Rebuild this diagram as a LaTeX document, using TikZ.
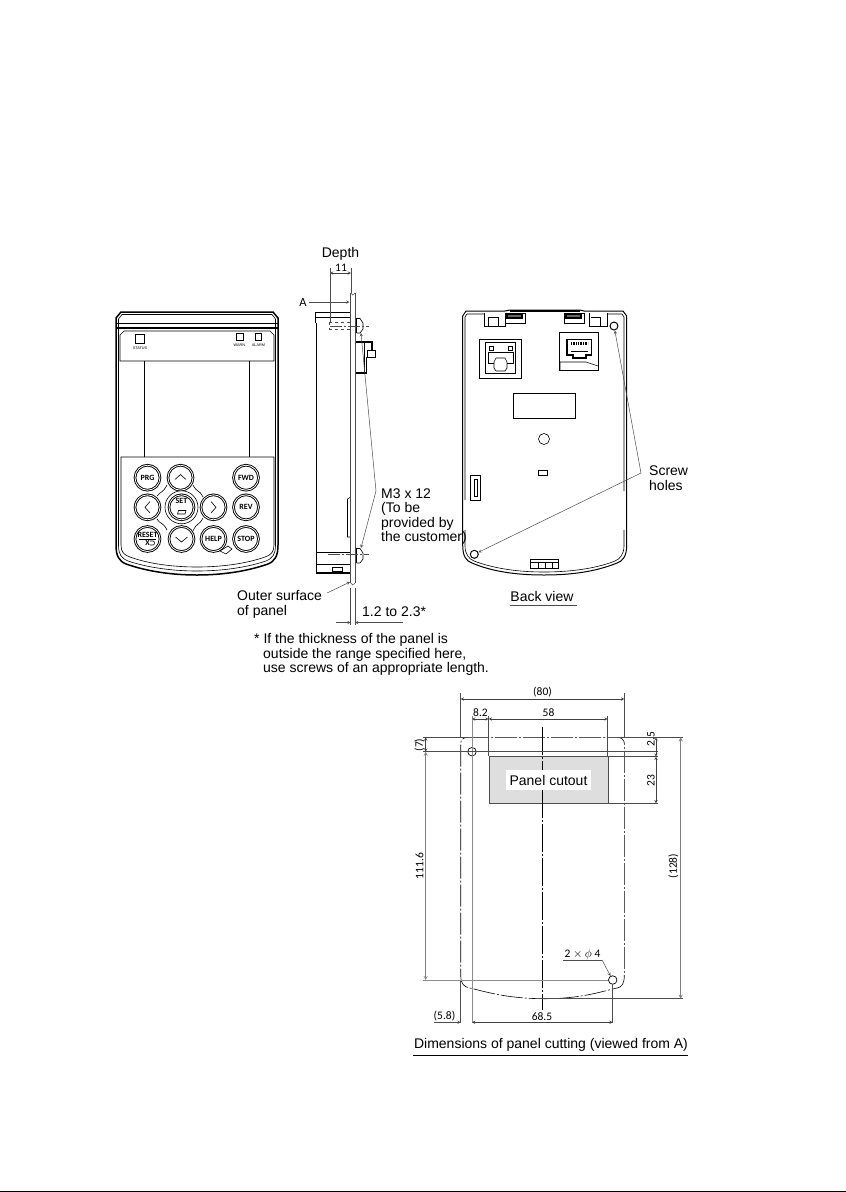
\documentclass[tikz,border=0pt]{standalone}
\usepackage{fontspec}
\setmainfont{Liberation Sans}
\newfontfamily\dimfont{Carlito}
\usetikzlibrary{arrows.meta, positioning}
\tikzset{
    body/.style={draw=black, line width=1.2pt},
    thinline/.style={draw=black, line width=0.6pt},
    dimline/.style={draw=black!75, line width=0.5pt, <->, >=stealth},
    extline/.style={draw=black!70, line width=0.5pt},
    leader/.style={draw=black!70, line width=0.5pt, ->, >=stealth},
    centerline/.style={draw=black, line width=0.6pt, dash pattern=on 22pt off 2pt on 2pt off 2pt},
    textlabel/.style={inner sep=0pt, align=left, font=\fontsize{14}{14.3}\selectfont},
    dimlabel/.style={inner sep=0pt, font=\dimfont\fontsize{11.5}{12}\selectfont},
    keybtn/.style={circle, draw=black, line width=0.9pt, double=white, double distance=0.8pt, minimum size=25pt, inner sep=0pt, align=center, font=\dimfont\bfseries\fontsize{8}{7.5}\selectfont},
    lamp/.style={rectangle, draw=black, line width=0.6pt, inner sep=0pt},
    lamplabel/.style={inner sep=0pt, font=\fontsize{3.8}{4}\selectfont},
}
\begin{document}
\begin{tikzpicture}[x=1pt, y=-1pt, >=stealth]
    \useasboundingbox (0,0) rectangle (846,1192);

    % Front view: case
    \draw[body, line width=1.5pt] (116,322) -- (116,318) -- (121,312) -- (273,312) -- (278,318) -- (278,545)
        .. controls (278,556) and (275,561) .. (268,564) .. controls (245,572) and (220,575) .. (197,575)
        .. controls (174,575) and (149,572) .. (126,564) .. controls (119,561) and (116,556) .. (116,545) -- cycle;
    \draw[thinline] (118.5,322) -- (118.5,319) -- (122,314.5) -- (272,314.5) -- (275.5,319) -- (275.5,545)
        .. controls (275.5,554) and (273,558) .. (266,561) .. controls (245,568) and (220,571) .. (197,571)
        .. controls (174,571) and (149,568) .. (128,561) .. controls (121,558) and (118.5,554) .. (118.5,545) -- cycle;
    \draw[body] (116,328) -- (278,328);
    \draw[thinline] (116,323) -- (278,323);

    % Front view: display and keypad
    \draw[thinline] (120,361) -- (120,335) -- (124,331) -- (270,331) -- (274,335) -- (274,361) -- cycle;
    \draw[thinline] (144,361) -- (144,457);
    \draw[thinline] (249,361) -- (249,457);
    \draw[thinline] (121,457) -- (274,457) -- (274,545) .. controls (274,552) and (271,555) .. (265,557)
        .. controls (245,564) and (220,567) .. (197,567) .. controls (174,567) and (149,564) .. (130,557)
        .. controls (124,555) and (121,552) .. (121,545) -- cycle;

    % Lamps
    \node[lamp, minimum size=9pt] (statuslamp) at (140,339) {};
    \node[lamplabel, below=3pt of statuslamp] (statustext) {STATUS};
    \node[lamp, minimum size=6.5pt] (warnlamp) at (240,337) {};
    \node[lamplabel, below=3pt of warnlamp] (warntext) {WARN.};
    \node[lamp, minimum size=6.5pt] (alarmlamp) at (258.5,337) {};
    \node[lamplabel, below=3pt of alarmlamp] (alarmtext) {ALARM};

    % Keys
    \draw[thinline] (193,485) .. controls (197,493) and (199,489) .. (203,497);
    \draw[thinline] (167,485) .. controls (163,493) and (161,491) .. (157,496);
    \draw[thinline] (193,531) .. controls (197,522) and (199,526) .. (203,518);
    \draw[thinline] (167,530) .. controls (163,522) and (161,525) .. (157,519);
    \node[keybtn] (prgkey) at (147.5,477.7) {PRG};
    \node[keybtn] (upkey) at (180.5,477.7) {};
    \node[keybtn] (fwdkey) at (246,477.7) {FWD};
    \node[keybtn] (leftkey) at (147.5,507.3) {};
    \node[circle, draw=black, line width=0.6pt, fill=white, minimum size=33pt, inner sep=0pt] (setring) at (181.5,507.3) {};
    \node[keybtn] (setkey) at (181.5,507.3) {SET\\[5pt]};
    \node[keybtn] (rightkey) at (213.5,507.3) {};
    \node[keybtn] (revkey) at (246,507.3) {REV};
    \node[keybtn] (resetkey) at (147.5,539) {RESET\\[0.5pt]X\hspace{7pt}};
    \node[keybtn] (downkey) at (181.5,539) {};
    \node[keybtn] (helpkey) at (213.5,539) {HELP};
    \node[keybtn] (stopkey) at (246,539) {STOP};
    \draw[thinline] (175,479.5) -- (180.5,474.5) -- (186,479.5);
    \draw[thinline] (175.5,537) -- (181.5,542) -- (187.5,537);
    \draw[thinline] (150,501.5) -- (145,507.3) -- (150,513);
    \draw[thinline] (211,501.5) -- (216,507.3) -- (211,513);
    \draw[thinline] (177.5,514) -- (178.5,510.5) -- (186,510.5) -- (185,514) -- cycle;
    \draw[thinline] (139,539) -- (156,539);
    \draw[thinline] (150,541) -- (153,541) .. controls (155,541) and (155,545) .. (153,545) -- (150,545);
    \draw[thinline] (220,551) -- (228,546) -- (232,549) -- (226,554) -- cycle;

    % Side view: case
    \draw[thinline] (315,323) -- (315,312) -- (350.7,312);
    \draw[body] (316.7,323) -- (316.7,573) -- (350.7,573);
    \draw[body] (315,317.5) -- (350.7,317.5);
    \draw[body] (350.7,312) -- (350.7,573);
    \draw[thinline] (316,552) -- (350.7,552);
    \draw[body] (316,564.5) -- (350.7,564.5);
    \draw[thinline] (332,567) rectangle (342,571);
    \draw[thinline] (350.7,497) -- (347.5,499) -- (347.5,537) -- (350.7,537);
    \draw[draw=black!70, dashed, line width=0.6pt] (329.5,322) rectangle (350.5,329);

    % Side view: panel
    \draw[extline, line width=0.7pt] (350.7,293) -- (350.7,583);
    \draw[extline, line width=0.7pt] (355,293) -- (355,583);
    \draw[extline] (350.7,293) -- (352.8,295) -- (355,293);
    \draw[extline] (350.7,583) -- (352.8,585) -- (355,583);
    \draw[extline] (350.7,588) -- (350.7,625);
    \draw[extline] (355,588) -- (355,625);

    % Side view: screws
    \draw[body, line width=1pt] (356,318) -- (356,333);
    \draw[thinline] (356.5,318.5) -- (360,318.5) -- (363,323) -- (363,329) -- (360,333) -- (356.5,333);
    \draw[body, line width=1pt] (356,548) -- (356,563);
    \draw[thinline] (356.5,548.5) -- (360,548.5) -- (363,553) -- (363,559) -- (360,563) -- (356.5,563);
    \draw[extline, dash pattern=on 12pt off 2pt on 2pt off 2pt] (330,326) -- (369,326);
    \draw[extline, dash pattern=on 12pt off 2pt on 2pt off 2pt] (328,554) -- (369,554);

    % Side view: connector
    \draw[body] (355.5,342) -- (372,342) -- (372,350);
    \draw[body] (366.7,357) -- (366.7,373) -- (355.5,373);
    \draw[thinline] (364,342) -- (364,373);
    \draw[thinline] (367,350) rectangle (375,357);

    % Depth and view arrow
    \node[textlabel] (depth) at (340.5,254) {Depth};
    \node[dimlabel] (elevenmark) at (341,267.5) {11};
    \coordinate (depthl) at (330,273);
    \coordinate (depthr) at (351,273);
    \draw[dimline] (depthl) -- (depthr);
    \draw[extline] (330,268) -- (330,322);
    \draw[extline] (351,268) -- (351,293);
    \node[inner sep=0pt, font=\dimfont\fontsize{12.5}{13}\selectfont] (viewa) at (303,302) {A};
    \coordinate (viewtip) at (349.5,302);
    \draw[leader] (viewa.east) ++(2,0) -- (viewtip);

    % Side view: labels
    \node[textlabel, anchor=north west] (m3text) at (381,488.5) {M3 x 12\\(To be\\provided by\\the customer)};
    \coordinate (m3fork) at (376,491);
    \coordinate (m3up) at (361,333);
    \coordinate (m3down) at (361,548);
    \draw[leader] (m3fork) -- (m3up);
    \draw[leader] (m3fork) -- (m3down);
    \node[textlabel, anchor=north west] (outertext) at (237,590.5) {Outer surface\\of panel};
    \coordinate (outerstart) at (327,593);
    \coordinate (outertip) at (350,582);
    \draw[leader] (outerstart) -- (outertip);
    \node[textlabel, anchor=west] (thicktext) at (362,612) {1.2 to 2.3*};
    \coordinate (thickl) at (336,622.5);
    \coordinate (thickla) at (350.7,622.5);
    \coordinate (thickr) at (403,622.5);
    \coordinate (thickra) at (355,622.5);
    \draw[leader] (thickl) -- (thickla);
    \draw[leader] (thickr) -- (thickra);
    \node[textlabel, anchor=north west] (notetext) at (254,633.5) {* If the thickness of the panel is\\\hspace*{9pt}outside the range specified here,\\\hspace*{9pt}use screws of an appropriate length.};

    % Back view: case
    \draw[body, line width=1pt] (462.7,316) -- (466,311) -- (505,311) -- (510,310) -- (580,310) -- (584,311) -- (623,311) -- (626.7,316) -- (626.7,545)
        .. controls (626.7,556) and (623,561) .. (617,563) .. controls (595,572) and (570,575) .. (544,575)
        .. controls (518,575) and (493,572) .. (472,563) .. controls (466,561) and (462.7,556) .. (462.7,545) -- cycle;
    \draw[thinline] (465,500) -- (465,317) -- (467,314) -- (484,314);
    \draw[thinline] (624,491) -- (624,317) -- (622,314) -- (607,314);
    \draw[thinline] (465,530) -- (465,546) .. controls (465,554) and (469,559) .. (474,561)
        .. controls (495,569) and (520,572) .. (544,572) .. controls (568,572) and (595,569) .. (615,561)
        .. controls (620,559) and (624,554) .. (624,546) -- (624,530);
    \draw[draw=black, line width=1.6pt] (510,311) -- (580,311);

    % Back view: tabs
    \draw[thinline] (484,313) -- (484,326) -- (505,326) -- (505,313);
    \draw[thinline] (488,317) -- (488,326);
    \draw[thinline] (488,317) -- (498,317) -- (498,326);
    \draw[thinline] (589,326) -- (589,313);
    \draw[thinline] (589,326) -- (607,326) -- (607,313);
    \draw[thinline] (591,317) -- (600,317) -- (600,326);
    \draw[thinline] (505,313) rectangle (525,323);
    \draw[body, fill=black!60] (507,314.5) rectangle (522,318);
    \draw[thinline] (564,313) rectangle (584,323);
    \draw[body, fill=black!60] (566,314.5) rectangle (581,318);
    \draw[thinline] (530,559) rectangle (558,568);
    \draw[thinline] (538,562) -- (538,568);
    \draw[thinline] (545,562) -- (545,568);
    \draw[thinline] (552,562) -- (552,568);
    \draw[thinline] (530,562) -- (558,562);

    % Back view: left socket
    \draw[thinline] (479.5,339) rectangle (521,378);
    \draw[thinline, line width=0.8pt] (485,342) rectangle (515.5,373.5);
    \draw[thinline] (494,363) -- (488,363) -- (488,352) -- (513,352) -- (513,363) -- (507,363);
    \draw[thinline] (489,346) rectangle (493,350);
    \draw[thinline] (508,346) rectangle (512,350);
    \draw[thinline] (496,358) -- (505,358) -- (507,362) -- (507,368) -- (505,371) -- (496,371) -- (494,368) -- (494,362) -- cycle;

    % Back view: right socket
    \draw[thinline] (559.5,332) -- (598,332) -- (598,370) -- (559.5,370) -- cycle;
    \draw[body] (567,339.5) -- (591.5,339.5) -- (591.5,355) -- (586,355) -- (586,358) -- (573,358) -- (573,355) -- (567,355) -- cycle;
    \draw[draw=black, line width=3pt, dash pattern=on 1pt off 0.7pt] (571,343) -- (588,343);
    \draw[draw=black, line width=1pt] (571,351) -- (588,351);
    \draw[thinline] (560,370) -- (560,362) -- (586,362) -- (598,366);

    % Back view: label area and details
    \draw[thinline] (513,393) rectangle (575,418);
    \node[circle, draw=black, line width=0.6pt, minimum size=11pt, inner sep=0pt] (centerhole) at (544,439) {};
    \draw[thinline] (538,470.5) rectangle (547,475);
    \draw[body, line width=0.9pt] (470,475) rectangle (480,500);
    \draw[thinline] (474,479) rectangle (477.5,496);

    % Back view: screw holes and labels
    \node[circle, draw=black, line width=1pt, minimum size=8pt, inner sep=0pt] (holetop) at (614,326) {};
    \node[circle, draw=black, line width=1pt, minimum size=8pt, inner sep=0pt] (holebottom) at (474.3,554.3) {};
    \node[textlabel, anchor=north west] (screwtext) at (649,466) {Screw\\holes};
    \coordinate (screwfork) at (641,473);
    \draw[leader] (screwfork) -- (holetop);
    \draw[leader] (screwfork) -- (holebottom);
    \node[textlabel] (backtext) at (542,596) {Back view};
    \draw[extline, line width=0.8pt] (510,605) -- (577,605);

    % Cutting: panel cutout
    \node[rectangle, draw=black!70, line width=0.7pt, fill=black!13, minimum width=119pt, minimum height=46.6pt, inner sep=0pt] (cutout) at (548.8,780) {};
    \node[textlabel, fill=white, align=center, minimum width=85pt, minimum height=20pt] (cutouttext) at (548.5,780) {Panel cutout};

    % Cutting: outline and center lines
    \draw[centerline] (467,737.3) -- (618,737.3) .. controls (621,737.3) and (624.3,740) .. (624.3,743) -- (624.3,975)
        .. controls (624.3,984) and (622,987) .. (617,988) .. controls (600,992) and (580,998.7) .. (545,998.7)
        .. controls (510,998.7) and (490,993) .. (470,988) .. controls (464,987) and (460.7,984) .. (460.7,975) -- (460.7,743)
        .. controls (460.7,740) and (464,737.3) .. (467,737.3);
    \draw[centerline, dash pattern=on 28pt off 2pt on 2pt off 2pt] (542.3,727) -- (542.3,770);
    \draw[centerline, dash pattern=on 28pt off 2pt on 2pt off 2pt] (542.3,790) -- (542.3,1010);
    \node[circle, draw=black, line width=0.7pt, minimum size=8.5pt, inner sep=0pt] (holea) at (472,751.7) {};
    \node[circle, draw=black, line width=0.7pt, minimum size=8.5pt, inner sep=0pt] (holeb) at (612.7,980) {};

    % Cutting: extension lines
    \draw[extline] (460.7,693) -- (460.7,737);
    \draw[extline] (624.3,693) -- (624.3,737);
    \draw[extline] (460.7,980) -- (460.7,1023);
    \draw[extline, draw=black!45, line width=1pt] (472,716) -- (472,1023);
    \draw[extline] (488.7,716) -- (488.7,756);
    \draw[extline] (607.7,716) -- (607.7,756);
    \draw[extline] (612.7,984) -- (612.7,1023);
    \draw[extline] (423,737.3) -- (467,737.3);
    \draw[extline] (618,737.3) -- (683,737.3);
    \draw[extline] (423,751.7) -- (658,751.7);
    \draw[extline] (608,756.7) -- (658,756.7);
    \draw[extline] (608,803.3) -- (658,803.3);
    \draw[extline, draw=black!45, line width=1pt] (423,980) -- (608,980);
    \draw[extline] (540,998.7) -- (683,998.7);

    % Cutting: dimensions
    \coordinate (d80l) at (460.7,699);
    \coordinate (d80r) at (624.3,699);
    \draw[dimline] (d80l) -- (d80r);
    \node[dimlabel] (d80text) at (542.5,692.5) {(80)};
    \coordinate (d82l) at (472,719);
    \coordinate (d82r) at (488.7,719);
    \draw[dimline] (d82l) -- (d82r);
    \node[dimlabel] (d82text) at (480.5,713) {8.2};
    \coordinate (d58r) at (607.7,719);
    \draw[dimline] (d82r) -- (d58r);
    \node[dimlabel] (d58text) at (548.5,713) {58};
    \coordinate (d25t) at (656,737.3);
    \coordinate (d25b) at (656,756.7);
    \draw[dimline] (d25t) -- (d25b);
    \node[dimlabel, rotate=90] (d25text) at (651,739) {2.5};
    \coordinate (d23b) at (656,803.3);
    \draw[dimline] (d25b) -- (d23b);
    \node[dimlabel, rotate=90] (d23text) at (651,780.5) {23};
    \coordinate (d7t) at (425.7,737.3);
    \coordinate (d7b) at (425.7,751.7);
    \draw[dimline] (d7t) -- (d7b);
    \node[dimlabel, rotate=90] (d7text) at (419.5,745) {(7)};
    \coordinate (d116b) at (425.7,980);
    \draw[dimline, draw=black!50, line width=0.8pt] (d7b) -- (d116b);
    \node[dimlabel, rotate=90] (d116text) at (419.5,866) {111.6};
    \coordinate (d128t) at (680.7,737.3);
    \coordinate (d128b) at (680.7,998.7);
    \draw[dimline, draw=black!50, line width=0.8pt] (d128t) -- (d128b);
    \node[dimlabel, rotate=90] (d128text) at (673.5,866) {(128)};
    \coordinate (d685l) at (472,1022.3);
    \coordinate (d685r) at (612.7,1022.3);
    \draw[dimline] (d685l) -- (d685r);
    \node[dimlabel] (d685text) at (542,1016.5) {68.5};
    \coordinate (d58l) at (434,1022.3);
    \coordinate (d58a) at (460.7,1022.3);
    \draw[leader] (d58l) -- (d58a);
    \node[dimlabel] (d58btext) at (444.5,1016) {(5.8)};
    \node[dimlabel] (phitext) at (582.5,954) {2 $\times$ $\phi$ 4};
    \coordinate (phil) at (563,960);
    \coordinate (phim) at (602,960);
    \draw[extline] (phil) -- (phim);
    \draw[leader] (phim) -- (holeb);

    % Cutting: title
    \node[textlabel] (cuttitle) at (551,1045) {Dimensions of panel cutting (viewed from A)};
    \draw[draw=black, line width=0.8pt] (413,1055) -- (688,1055);

    % Page edge
    \draw[draw=black, line width=1pt] (0,1191.5) -- (846,1191.5);
\end{tikzpicture}
\end{document}
